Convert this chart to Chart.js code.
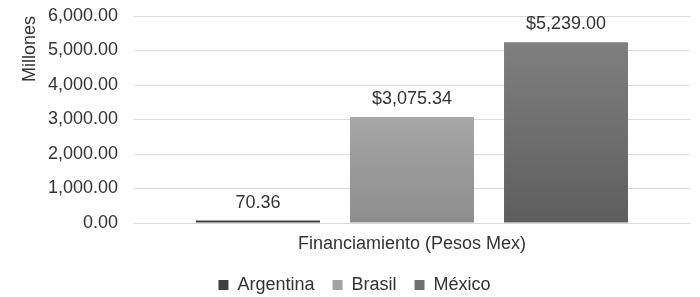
<!DOCTYPE html>
<html>
<head>
<meta charset="utf-8">
<script src="https://cdn.jsdelivr.net/npm/chart.js@4/dist/chart.umd.min.js"></script>
<style>
html, body { margin: 0; padding: 0; background: #fff; }
</style>
</head>
<body>
<canvas id="chart" width="700" height="297"></canvas>
<script>
// datos
const categories = ['Financiamiento (Pesos Mex)'];
const seriesNames = ['Argentina', 'Brasil', 'México'];
const argentina = [70.36];
const brasil = [3075.34];
const mexico = [5239.00];
const labelPrefix = ['', '$', '$'];
const yMin = 0, yMax = 6000, yStep = 1000;

const FONT = "'Liberation Sans', Arial, sans-serif";
const TEXT = '#333333';

function fmt(v) {
    return v.toLocaleString('en-US', { minimumFractionDigits: 2, maximumFractionDigits: 2 });
}

// degradado vertical por barra
function grad(top, bottom) {
    return function(c) {
        const chart = c.chart;
        if (!chart.chartArea || c.raw === undefined) return bottom;
        const y = chart.scales.y;
        const yTop = y.getPixelForValue(c.raw);
        const yBase = y.getPixelForValue(0);
        if (yBase - yTop < 2) return bottom;
        const g = chart.ctx.createLinearGradient(0, yTop, 0, yBase);
        g.addColorStop(0, top);
        g.addColorStop(1, bottom);
        return g;
    };
}

const legendColors = ['#3f3f3f', '#a3a3a3', '#707070'];

// etiquetas encima de las barras
const barLabels = {
    id: 'barLabels',
    afterDatasetsDraw(chart) {
        const ctx = chart.ctx;
        ctx.save();
        ctx.font = '18px ' + FONT;
        ctx.fillStyle = TEXT;
        ctx.textAlign = 'center';
        ctx.textBaseline = 'middle';
        chart.data.datasets.forEach((ds, i) => {
            chart.getDatasetMeta(i).data.forEach((bar, j) => {
                ctx.fillText(labelPrefix[i] + fmt(ds.data[j]), bar.x, bar.y - 18);
            });
        });
        ctx.restore();
    }
};

new Chart(document.getElementById('chart'), {
    type: 'bar',
    data: {
        labels: categories,
        datasets: [
            { label: seriesNames[0], data: argentina, backgroundColor: '#3f3f3f' },
            { label: seriesNames[1], data: brasil, backgroundColor: grad('#a7a7a7', '#8d8d8d') },
            { label: seriesNames[2], data: mexico, backgroundColor: grad('#7f7f7f', '#5e5e5e') }
        ]
    },
    options: {
        responsive: false,
        animation: false,
        categoryPercentage: 0.831,
        barPercentage: 0.805,
        layout: { padding: { top: 16, right: 10, left: 19, bottom: -7 } },
        scales: {
            x: {
                grid: { display: false, drawTicks: false },
                border: { display: false },
                ticks: { color: TEXT, font: { family: FONT, size: 18 }, padding: 10 },
                afterFit: s => { s.height = 35; }
            },
            y: {
                min: yMin,
                max: yMax,
                border: { display: false },
                grid: { color: '#d9d9d9', lineWidth: 1, drawTicks: false },
                ticks: {
                    stepSize: yStep,
                    color: TEXT,
                    font: { family: FONT, size: 18 },
                    padding: 16,
                    callback: v => fmt(v)
                },
                title: {
                    display: true,
                    text: 'Millones',
                    align: 'end',
                    color: TEXT,
                    font: { family: FONT, size: 18 },
                    padding: { top: 0, bottom: 4 }
                },
                afterFit: s => {
                    s.width = 115;
                    s.paddingTop = 0;
                    s.paddingBottom = 0;
                }
            }
        },
        plugins: {
            tooltip: { enabled: false },
            legend: {
                position: 'bottom',
                labels: {
                    color: TEXT,
                    font: { family: FONT, size: 18 },
                    boxWidth: 10,
                    boxHeight: 10,
                    padding: 18,
                    generateLabels: chart => chart.data.datasets.map((ds, i) => ({
                        text: ds.label,
                        fillStyle: legendColors[i],
                        strokeStyle: legendColors[i],
                        lineWidth: 0,
                        fontColor: TEXT,
                        datasetIndex: i
                    }))
                }
            }
        }
    },
    plugins: [barLabels]
});
</script>
</body>
</html>
